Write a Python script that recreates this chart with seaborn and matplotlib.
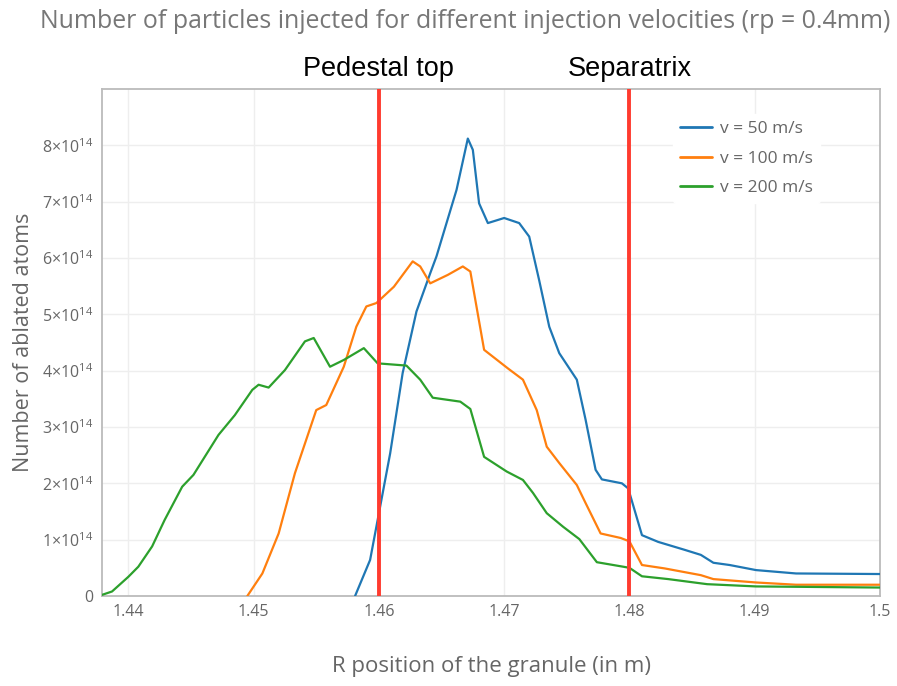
import numpy as np
import pandas as pd
import matplotlib
matplotlib.use("Agg")
import matplotlib.pyplot as plt
import seaborn as sns

# ---- data (x in m, y in units of 1e14 atoms) ----
x_50 = [1.4581, 1.4593, 1.4598, 1.4609, 1.4619, 1.4630, 1.4641, 1.4646, 1.4662, 1.4671,
        1.4675, 1.4680, 1.4687, 1.4700, 1.4712, 1.4720, 1.4728, 1.4736, 1.4744, 1.4758,
        1.4765, 1.4773, 1.4778, 1.4794, 1.4799, 1.4810, 1.4823, 1.4844, 1.4857, 1.4867,
        1.4880, 1.4901, 1.4933, 1.5000]
y_50 = [0.00, 0.64, 1.23, 2.53, 3.96, 5.05, 5.73, 6.03, 7.21, 8.12,
        7.92, 6.97, 6.62, 6.71, 6.62, 6.38, 5.60, 4.78, 4.31, 3.84,
        3.13, 2.24, 2.07, 2.00, 1.91, 1.08, 0.96, 0.82, 0.73, 0.59,
        0.55, 0.46, 0.40, 0.39]

x_100 = [1.4495, 1.4507, 1.4520, 1.4533, 1.4550, 1.4558, 1.4572, 1.4582, 1.4590, 1.4598,
         1.4612, 1.4627, 1.4633, 1.4641, 1.4655, 1.4667, 1.4673, 1.4684, 1.4703, 1.4715,
         1.4726, 1.4734, 1.4744, 1.4758, 1.4765, 1.4777, 1.4793, 1.4800, 1.4810, 1.4828,
         1.4857, 1.4867, 1.4901, 1.4933, 1.5000]
y_100 = [0.00, 0.40, 1.11, 2.18, 3.30, 3.39, 4.07, 4.78, 5.14, 5.20,
         5.49, 5.94, 5.85, 5.55, 5.70, 5.85, 5.76, 4.37, 4.04, 3.84,
         3.30, 2.65, 2.36, 1.97, 1.65, 1.11, 1.03, 0.97, 0.55, 0.49,
         0.37, 0.30, 0.24, 0.20, 0.20]

x_200 = [1.4379, 1.4387, 1.4400, 1.4408, 1.4419, 1.4429, 1.4443, 1.4452, 1.4461, 1.4472,
         1.4485, 1.4499, 1.4504, 1.4512, 1.4525, 1.4541, 1.4548, 1.4561, 1.4572, 1.4588,
         1.4599, 1.4622, 1.4633, 1.4643, 1.4665, 1.4673, 1.4684, 1.4702, 1.4715, 1.4723,
         1.4734, 1.4747, 1.4760, 1.4774, 1.4795, 1.4800, 1.4810, 1.4831, 1.4862, 1.4901,
         1.5000]
y_200 = [0.02, 0.08, 0.34, 0.52, 0.88, 1.35, 1.94, 2.15, 2.47, 2.86,
         3.21, 3.66, 3.75, 3.70, 4.01, 4.52, 4.58, 4.07, 4.19, 4.40,
         4.13, 4.09, 3.84, 3.52, 3.45, 3.32, 2.47, 2.21, 2.06, 1.83,
         1.47, 1.23, 1.01, 0.60, 0.52, 0.50, 0.35, 0.30, 0.21, 0.17,
         0.15]

series_names = ["v = 50 m/s", "v = 100 m/s", "v = 200 m/s"]
series_colors = ["#1f77b4", "#ff7f0e", "#2ca02c"]

marker_x = [1.46, 1.48]
marker_labels = ["Pedestal top", "Separatrix"]

x_ticks = [1.44, 1.45, 1.46, 1.47, 1.48, 1.49, 1.50]
x_tick_labels = ["1.44", "1.45", "1.46", "1.47", "1.48", "1.49", "1.5"]
y_ticks = [0, 1, 2, 3, 4, 5, 6, 7, 8]
y_tick_labels = ["0"] + [r"$%d{\times}10^{14}$" % k for k in range(1, 9)]

title = "Number of particles injected for different injection velocities (rp = 0.4mm)"
xlabel = "R position of the granule (in m)"
ylabel = "Number of ablated atoms"

# ---- build frame ----
frames = []
for name, xs, ys in zip(series_names, [x_50, x_100, x_200], [y_50, y_100, y_200]):
    frames.append(pd.DataFrame({"R": xs, "N": np.array(ys) * 1e14, "series": name}))
df = pd.concat(frames, ignore_index=True)

sns.set_theme(style="white")
plt.rcParams["font.family"] = ["Open Sans", "DejaVu Sans"]
plt.rcParams["mathtext.fontset"] = "custom"
plt.rcParams["mathtext.rm"] = "Open Sans"
plt.rcParams["mathtext.it"] = "Open Sans:italic"
plt.rcParams["mathtext.bf"] = "Open Sans:bold"

fig = plt.figure(figsize=(8.97, 6.86), dpi=100)
ax = fig.add_axes([102 / 897, 1 - 596 / 686, (880 - 102) / 897, (596 - 89) / 686])

sns.lineplot(data=df, x="R", y="N", hue="series", hue_order=series_names,
             palette=series_colors, estimator=None, sort=True, linewidth=1.6,
             ax=ax, zorder=3)

# vertical markers
for xv, lab in zip(marker_x, marker_labels):
    ax.axvline(xv, color="#ff3b2f", linewidth=2.8, zorder=4)
    ax.text(xv, 1.026, lab, transform=ax.get_xaxis_transform(), ha="center",
            va="baseline", fontsize=19.5, color="black", family="Liberation Sans")

ax.set_xlim(1.4379, 1.5)
ax.set_ylim(0, 9.0e14)
ax.set_xticks(x_ticks)
ax.set_xticklabels(x_tick_labels)
ax.set_yticks([v * 1e14 for v in y_ticks])
ax.set_yticklabels(y_tick_labels)
ax.tick_params(axis="both", labelsize=11.5, colors="#666666", length=0, pad=6)

ax.grid(True, color="#eeeeee", linewidth=1.0)
ax.set_axisbelow(True)
for sp in ax.spines.values():
    sp.set_visible(True)
    sp.set_color("#bbbbbb")
    sp.set_linewidth(1.3)

ax.set_xlabel(xlabel, fontsize=16, color="#666666", labelpad=26)
ax.set_ylabel(ylabel, fontsize=15.5, color="#666666", labelpad=6)

leg = ax.legend(loc="upper left", bbox_to_anchor=(0.734, 0.950), borderaxespad=0,
                frameon=True, facecolor="white", edgecolor="white", framealpha=1.0,
                fontsize=12.5, handlelength=1.85, handletextpad=0.45,
                labelspacing=0.75, borderpad=0.4)
for t in leg.get_texts():
    t.set_color("#666666")
for h in leg.get_lines():
    h.set_linewidth(2.0)
leg.set_title(None)

fig.text(40 / 897, 1 - 22 / 686, title, ha="left", va="center", fontsize=17.9,
         color="#777777")

fig.savefig("out.png", dpi=100)
